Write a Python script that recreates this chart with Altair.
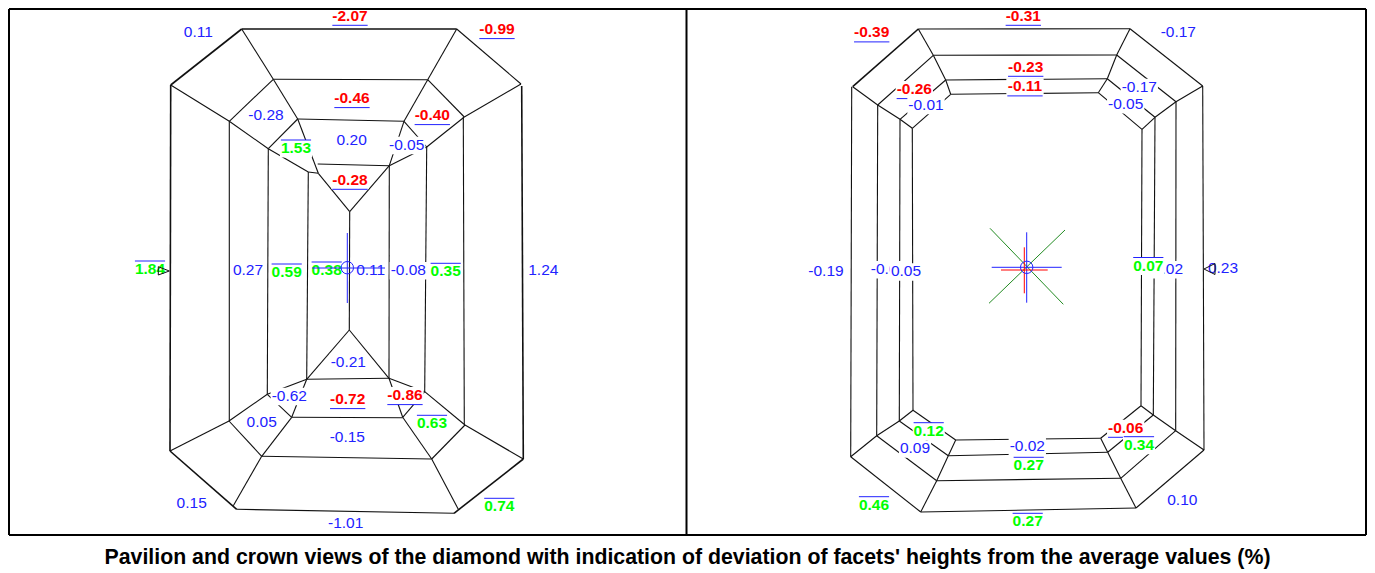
import altair as alt
import pandas as pd

W, H = 1359, 562
FONT = "Liberation Sans"
SIZE = 15.5
TITLE_SIZE = 21.3

# Polylines of the facet drawing (image pixels)
pavilion_thin = [
    [(241.7, 29), (273.3, 79.3), (297.7, 119), (318.3, 173.3), (349.7, 211.7), (389.3, 165.7), (404, 121.3), (427.7, 79.7), (456.7, 29)],
    [(273.3, 79.3), (427.7, 79.7)], [(297.7, 119), (404, 121.3)], [(317.7, 164), (389.3, 165.7)],
    [(170.7, 85), (229.3, 121.3), (268.3, 148.7), (308.3, 172), (318.3, 173.3)],
    [(521, 84), (464.3, 117), (426.7, 147), (389.3, 165.7)],
    [(273.3, 79.3), (229.3, 121.3)], [(427.7, 79.7), (464.3, 117)],
    [(297.7, 119), (268.3, 148.7)], [(404, 121.3), (426.7, 147)],
    [(229.3, 121.3), (229.3, 421)], [(268.3, 148.7), (267.3, 394.3)], [(308.3, 172), (306.7, 379.3)],
    [(349.7, 211.7), (349.3, 330)], [(389.3, 165.7), (389, 378.3)], [(426.7, 147), (424.7, 391.7)],
    [(463.3, 117.3), (464.3, 424.3)],
    [(170, 451), (229, 421), (267.3, 394.3), (306.7, 379.3), (389, 378.3), (424.7, 391.7), (465, 425), (523.3, 459)],
    [(349.3, 330), (306.7, 379.3)], [(349.3, 330), (389, 378.3)],
    [(229, 421), (261.7, 456.3)], [(267.3, 394.3), (291.7, 417.3)],
    [(306.7, 379.3), (291.7, 417.3), (261.7, 456.3), (233.3, 505.7)],
    [(389, 378.3), (402.7, 417.3), (431.7, 459), (458.3, 509.3)],
    [(291.7, 417.3), (402.7, 417.7)], [(261.7, 456.3), (431.7, 459)],
    [(465, 425), (431.7, 459)], [(424.7, 391.7), (402.7, 417.3)],
    [(456.7, 29), (521, 84)],
    [(236.7, 509.3), (454, 513.3)],
]
pavilion_bold = [
    [(241.7, 29), (456.7, 29)],
    [(241.7, 29), (170.7, 85), (170, 451), (236.7, 509.3)],
    [(454, 513.3), (523.3, 459), (521.7, 86)],
]
crown_thin = [
    [(918.3, 29), (1130, 28.7), (1202.7, 86), (1204, 450), (1136, 508), (920.7, 512), (850.7, 456.7), (851.7, 86.7)],
    [(918.3, 29), (933.3, 55.3), (945.7, 80), (950.7, 94.3)],
    [(1130, 28.7), (1116.7, 55), (1107.3, 78.7), (1098.3, 92.7)],
    [(933.3, 55.3), (1116.7, 55)], [(945.7, 80), (1107.3, 78.7)], [(950.7, 94.3), (1098.3, 92.7)],
    [(852.7, 86.7), (877.7, 105), (900, 119.3), (912.3, 128.3)],
    [(1202.7, 86), (1176, 101.7), (1155, 117.3), (1142, 129.3)],
    [(933.3, 55.3), (877.7, 105)], [(945.7, 80), (900, 119.3)], [(950.7, 94.3), (912.3, 128.3)],
    [(1116.7, 55), (1176, 101.7)], [(1107.3, 78.7), (1155, 117.3)], [(1098.3, 92.7), (1142, 129.3)],
    [(877.7, 105), (876.7, 435.7)], [(900, 119.3), (899.3, 421)], [(912.3, 128.3), (913, 410.3)],
    [(1142, 129.3), (1141, 405.7)], [(1155, 117.3), (1153.3, 415)], [(1176, 101.7), (1175.7, 430.7)],
    [(850.7, 456.7), (876.7, 435.7), (899.3, 421), (913, 410.3)],
    [(1204, 450), (1175.7, 430.7), (1153.3, 415), (1141, 405.7)],
    [(913, 410.3), (955.7, 440)], [(899.3, 421), (948.3, 455.7)], [(876.7, 435.7), (936.7, 480.7)],
    [(1141, 405.7), (1100.7, 438.3)], [(1153.3, 415), (1107.7, 452.3)], [(1175.7, 430.7), (1120.7, 478.3)],
    [(955.7, 440), (948.3, 455.7), (936.7, 480.7), (920.7, 512)],
    [(1100.7, 438.3), (1107.7, 452.3), (1120.7, 478.3), (1136, 508)],
    [(955.7, 440), (1100.7, 438.3)], [(948.3, 455.7), (1107.7, 452.3)], [(936.7, 480.7), (1120.7, 478.3)],
]
crown_bold = [[(918.3, 29), (852.7, 86.7)]]
girdle_marks = [
    [(158.3, 266.7), (169.3, 271), (158.3, 275), (158.3, 266.7)],
    [(1204, 269), (1215, 263.5), (1215, 274.5), (1204, 269)],
]
blue_cross = [
    [(347.3, 233), (347.3, 303)], [(312, 268), (385, 268)],
    [(1026.7, 232.3), (1026.7, 302.7)], [(991.7, 267.3), (1061.7, 267.3)],
]
red_cross = [[(1024.3, 247.3), (1024.3, 293.3)], [(1001, 270), (1047.7, 270)]]
green_cross = [[(990, 228.3), (1063.3, 304.3)], [(1065, 230), (989, 303.3)]]
centres = [(347.3, 267.7), (1026.7, 267.3)]
frame = [
    [(9, 9), (1366, 9)], [(9, 9), (9, 535)], [(1366, 9), (1366, 535)],
    [(686.5, 9), (686.5, 535)], [(9, 535), (1366, 535)],
]

# Labels: text, x, y, in drawing order groups
blue_labels = [
    ("0.11", 198.3, 32.7), ("-0.28", 266, 115.7), ("0.20", 351.7, 140.7), ("-0.05", 406.7, 145.7),
    ("0.27", 248, 271), ("0.11", 370.7, 271), ("-0.08", 408.3, 271), ("1.24", 543.3, 270.7),
    ("-0.21", 348.3, 362.7), ("-0.62", 289.3, 396.7), ("0.05", 261.7, 422.7), ("-0.15", 347.3, 438.3),
    ("0.15", 191.7, 503.7), ("-1.01", 345.7, 523.7),
    ("-0.17", 1178.3, 33.3), ("-0.17", 1139.3, 87.7), ("-0.01", 926, 105.7), ("-0.05", 1125.7, 105),
    ("-0.19", 826, 272.3), ("0.05", 906, 272.3), ("0.09", 915, 449.3), ("-0.02", 1027.3, 446.7),
    ("0.10", 1182.3, 501), ("0.23", 1223, 268.5),
]
blue_covered = [("-0.04", 888.5, 270), ("0.02", 1168, 270)]
red_labels = [
    ("-2.07", 350, 16.7), ("-0.99", 497, 30), ("-0.46", 352, 99), ("-0.40", 432.3, 116),
    ("-0.28", 350, 180.7), ("-0.72", 347.7, 400), ("-0.86", 405, 396),
    ("-0.31", 1023.3, 16.7), ("-0.39", 871.7, 33.3), ("-0.23", 1025.7, 67.7), ("-0.11", 1025, 87.3),
    ("-0.06", 1125.7, 428.7),
]
red_covered = [("-0.26", 914.3, 90)]
green_labels = [
    ("1.53", 296, 149), ("1.84", 150, 270), ("0.59", 286.7, 273), ("0.38", 326.7, 271), ("0.35", 445.7, 272.3),
    ("0.63", 432, 424.3), ("0.74", 499.3, 507.3),
    ("0.07", 1148.3, 266.5), ("0.12", 928.7, 431.7), ("0.34", 1139, 445.7), ("0.27", 1028.7, 466.3),
    ("0.46", 874, 505.7), ("0.27", 1027.7, 522.3),
]
title_text = "Pavilion and crown views of the diamond with indication of deviation of facets' heights from the average values (%)"

xs = alt.Scale(domain=[8, 8 + W], range=[0, W], nice=False, zero=False)
ys = alt.Scale(domain=[8, 8 + H], range=[0, H], nice=False, zero=False)
X = alt.X("x:Q", scale=xs, axis=None)
Y = alt.Y("y:Q", scale=ys, axis=None)


def segs(polys):
    return pd.DataFrame(
        [{"x": a[0], "y": a[1], "x2": b[0], "y2": b[1]} for p in polys for a, b in zip(p, p[1:])]
    )


def lines(polys, color, width):
    return alt.Chart(segs(polys)).mark_rule(color=color, strokeWidth=width).encode(
        x=X, y=Y, x2="x2:Q", y2="y2:Q"
    )


def text_width(s):
    adv = {"-": 0.333, ".": 0.278}
    return sum(adv.get(c, 0.556) for c in s) * SIZE


def label_layers(items, color, bold, bar_offset):
    df = pd.DataFrame(items, columns=["t", "x", "y"])
    df["w"] = [text_width(t) for t in df.t]
    boxes = df.assign(x=df.x - df.w / 2 - 1, x2=df.x + df.w / 2 + 1, y=df.y - 9, y2=df.y + 8.5)
    out = [alt.Chart(boxes).mark_rect(color="white").encode(x=X, y=Y, x2="x2:Q", y2="y2:Q")]
    if bar_offset:
        bars = df.assign(x=df.x - df.w / 2, x2=df.x + df.w / 2, y=df.y + bar_offset, y2=df.y + bar_offset)
        out.append(alt.Chart(bars).mark_rule(color="#2222ff", strokeWidth=1).encode(x=X, y=Y, x2="x2:Q", y2="y2:Q"))
    out.append(
        alt.Chart(df).mark_text(
            font=FONT, fontSize=SIZE, fontWeight="bold" if bold else "normal", color=color,
            align="center", baseline="middle", dy=-1,
        ).encode(x=X, y=Y, text="t:N")
    )
    return out


layers = [
    lines(pavilion_thin + crown_thin, "#111111", 1.1),
    lines(pavilion_bold + crown_bold, "#111111", 1.6),
]
layers += label_layers(blue_covered, "#2222ff", False, 0)
layers += label_layers(red_covered, "#ff0000", True, 8.6)
layers += label_layers(blue_labels, "#2222ff", False, 0)
layers += label_layers(red_labels, "#ff0000", True, 8.6)
layers += label_layers(green_labels, "#00ff00", True, -9)
layers += [
    lines(green_cross, "#228b22", 1),
    lines(blue_cross, "#2222ff", 1),
    lines(red_cross, "#ff0000", 1),
    alt.Chart(pd.DataFrame(centres, columns=["x", "y"])).mark_point(
        filled=False, size=154, color="#2222ff", strokeWidth=1, opacity=1
    ).encode(x=X, y=Y),
    lines(girdle_marks, "#111111", 1),
    lines(frame, "#000000", 2),
    alt.Chart(pd.DataFrame({"t": [title_text], "x": [687.5], "y": [558]})).mark_text(
        font=FONT, fontSize=TITLE_SIZE, fontWeight="bold", color="#000000", align="center", baseline="middle"
    ).encode(x=X, y=Y, text="t:N"),
]

chart = (
    alt.layer(*layers)
    .properties(width=W, height=H, padding=0, autosize=alt.AutoSizeParams(type="none"), background="white")
    .configure_view(strokeWidth=0)
)
chart.save("out.html", embed_options={"renderer": "svg", "actions": False})
